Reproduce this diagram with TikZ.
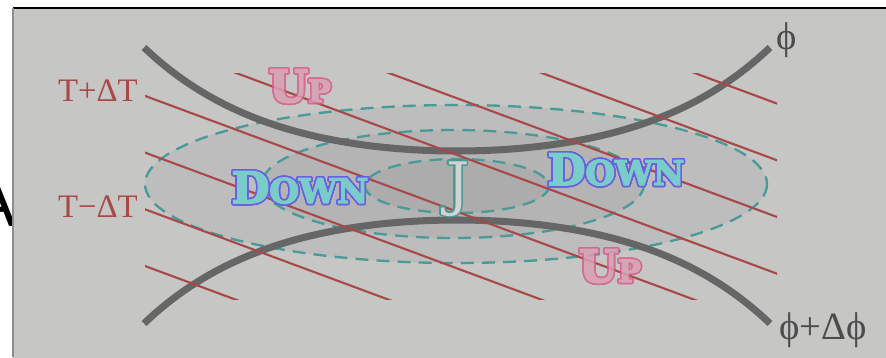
\documentclass[tikz,border=0pt]{standalone}
\usepackage{fontspec}
\setmainfont{Liberation Serif}
\newfontfamily\bubblefont{DejaVu Serif}[BoldFeatures={FakeBold=4}]
\newfontfamily\letterfont{Liberation Sans}
\usepackage{contour}
\contournumber{32}
\usetikzlibrary{positioning}

\definecolor{panel}{HTML}{C6C6C5}
\definecolor{zoneA}{HTML}{BDBDBD}
\definecolor{zoneB}{HTML}{B4B4B4}
\definecolor{zoneC}{HTML}{ACACAC}
\definecolor{dashteal}{HTML}{4A9A96}
\definecolor{isored}{HTML}{A84848}
\definecolor{curvegray}{HTML}{666666}
\definecolor{upfill}{HTML}{D8A0B4}
\definecolor{upline}{HTML}{DA5A8A}
\definecolor{downfill}{HTML}{7ACCCA}
\definecolor{downline}{HTML}{6A5FE0}
\definecolor{jfill}{HTML}{D2D2D2}
\definecolor{jline}{HTML}{4A9A92}

% first letter big, the rest as small capitals
\newcommand{\capword}[3]{#2{\fontsize{#1}{#1}\selectfont\MakeUppercase{#3}}}

\begin{document}
\begin{tikzpicture}[x=0.03cm, y=-0.03cm,
    zone/.style={fill=#1, draw=dashteal, line width=2pt,
      dash pattern=on 11pt off 7pt},
    curve/.style={draw=curvegray, line width=6pt},
    isoT/.style={isored, line width=1.8pt},
    temp/.style={text=isored, inner sep=0pt,
      font=\fontsize{28pt}{28pt}\selectfont},
    phase/.style={text=black!70, inner sep=0pt,
      font=\fontsize{33pt}{33pt}\selectfont},
    tag/.style={inner sep=0pt, anchor=base,
      font=\bubblefont\bfseries\fontsize{#1}{#1}\selectfont},
    tag/.default=37pt,
    jtag/.style={inner sep=0pt, anchor=base,
      font=\bubblefont\fontsize{50pt}{50pt}\selectfont}
]
\useasboundingbox (0,0) rectangle (886,357);
\fill[white] (0,0) rectangle (886,357);

% --- Letra cortada y panel ---
\node[font=\letterfont\fontsize{60pt}{60pt}\selectfont, inner sep=0pt,
      anchor=south east] (letra) at (17,227) {A};
\fill[panel] (13,8) rectangle (890,360);
\draw[black, line width=1.7pt] (13,8) -- (886,8);
\draw[black!45, line width=2.5pt] (13,8) -- (13,357);

% --- Zonas (elipses) ---
\draw[zone=zoneA] (456,184) ellipse [x radius=311, y radius=79];
\draw[zone=zoneB] (453,184) ellipse [x radius=191, y radius=54];
\draw[zone=zoneC] (457,186) ellipse [x radius=92, y radius=27];

% --- Curvas phi y phi+dphi ---
\draw[curve] plot[domain=-313:313, samples=61, smooth]
      ({457+\x},{151-22.5*(cosh(\x/130)-1)});
\draw[curve] plot[domain=-313:313, samples=61, smooth]
      ({457+\x},{220+22.5*(cosh(\x/130)-1)});

% --- Isotermas ---
\begin{scope}
  \clip (145,73) rectangle (777,299);
  \foreach \k in {0,...,7}
    \draw[isoT] (140,{266-56.7*\k-0.371*5}) -- (790,{266-56.7*\k+0.371*645});
\end{scope}

% --- Etiquetas ---
\node[temp, anchor=east] (tmas) at (138,91) {T+ΔT};
\node[temp, anchor=east] (tmenos) at (138,207) {T−ΔT};
\node[phase] (phi) at (787,40) {ϕ};
\node[phase, anchor=west] (dphi) at (779,330) {ϕ+Δϕ};

% --- Up / Down / J ---
\contourlength{1.3pt}
\begin{scope}[transparency group, opacity=0.85]
  \node[tag=38pt] (upa) at (300,102)
        {\contour{upline}{\textcolor{upfill}{\capword{26pt}{U}{p}}}};
  \node[tag=38pt] (upb) at (610,282)
        {\contour{upline}{\textcolor{upfill}{\capword{26pt}{U}{p}}}};
\end{scope}
\node[tag] (downa) at (300,203)
      {\contour{downline}{\textcolor{downfill}{\capword{29pt}{D}{own}}}};
\node[tag] (downb) at (616,185)
      {\contour{downline}{\textcolor{downfill}{\capword{29pt}{D}{own}}}};
\node[jtag] (jota) at (458,204)
      {\contour{jline}{\textcolor{jfill}{J}}};
\end{tikzpicture}
\end{document}
